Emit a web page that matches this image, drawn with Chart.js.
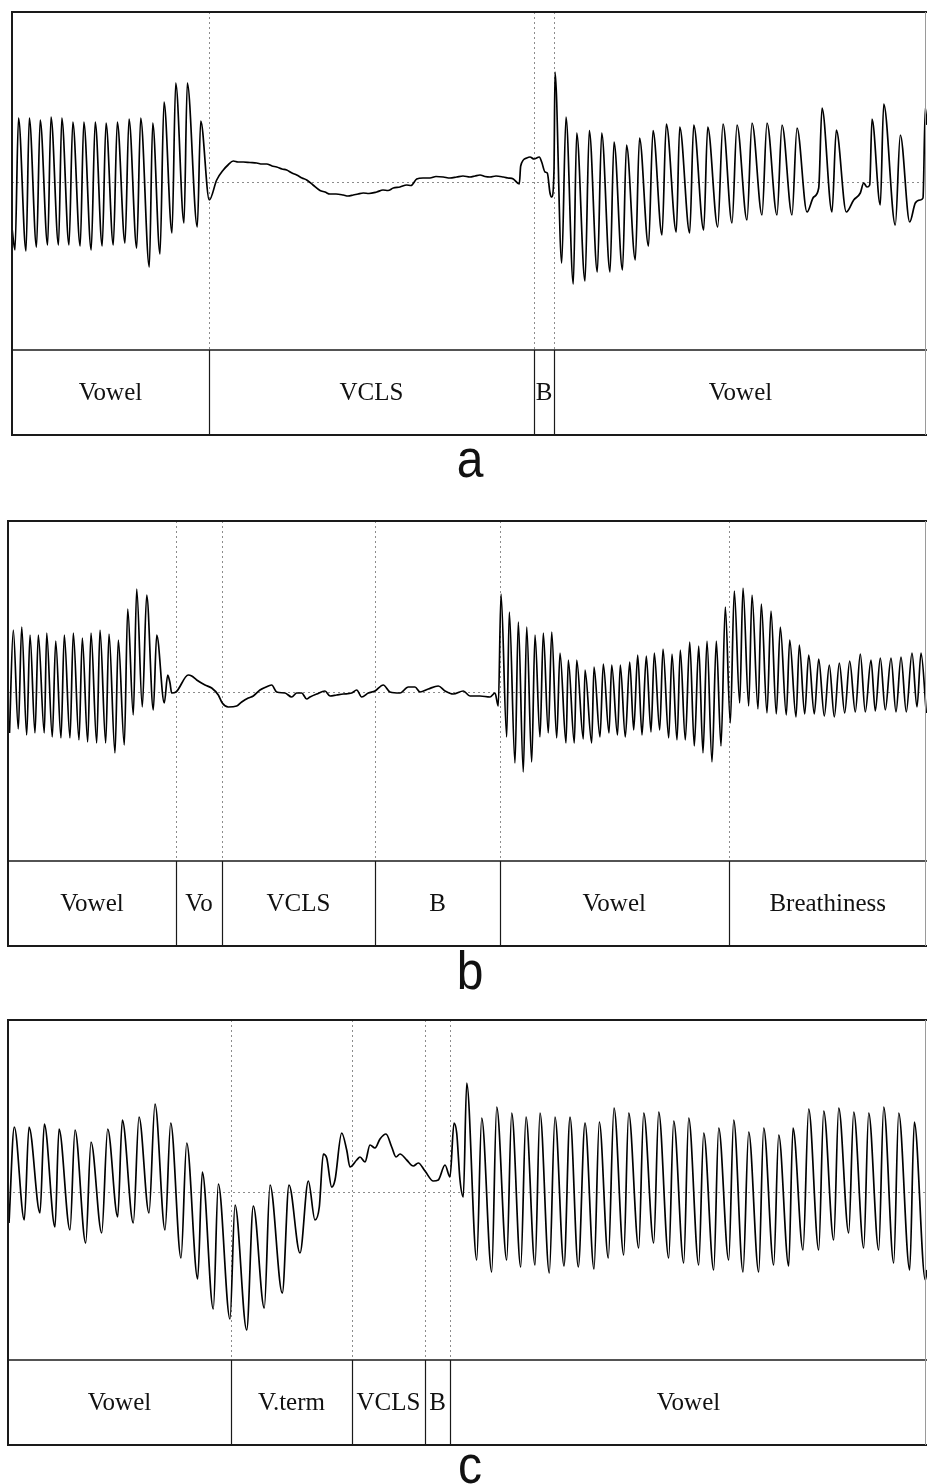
<!DOCTYPE html>
<html>
<head>
<meta charset="utf-8">
<script src="https://cdn.jsdelivr.net/npm/chart.js@4.4.0/dist/chart.umd.min.js"></script>
<style>
  html, body { margin: 0; padding: 0; background: #fff; }
  body { width: 927px; height: 1484px; position: relative; overflow: hidden; }
  canvas { position: absolute; left: 0; }
</style>
</head>
<body>
<canvas id="panelA" width="927" height="495" style="top:0px"></canvas>
<canvas id="panelB" width="927" height="500" style="top:495px"></canvas>
<canvas id="panelC" width="927" height="489" style="top:995px"></canvas>
<script>
// time axis in samples from the left edge of each panel, amplitude around the dotted zero line

// panel a
const aTime = [
  0, 3, 6.5, 14, 17.3, 24.5, 28.2, 35.6, 39, 46.5, 49.8, 57, 60.8, 68.2, 71.8, 79.2, 83.2, 90.2,
  94, 101.3, 105.3, 113, 117, 124.7, 128.7, 137.3, 140.7, 148, 152, 160, 163.7, 172, 175.3, 185.3,
  188.7, 197.3,
  204.7, 211.3, 216, 221.3, 226, 231.3, 238, 244.7, 250, 254.7, 260, 264.7, 270, 274.7, 280, 284.7,
  290, 294.7, 301, 308, 313, 318, 324, 331.3, 336, 341.3, 346, 351.3, 357, 364.7, 371, 376, 381.3,
  388, 394.7, 399, 404.7, 411, 418, 424, 431.3, 438, 444.7, 451, 458, 463, 468, 473, 478, 484,
  491.3, 496, 501.3, 507.3, 508.7, 514.7, 518, 522, 527.3, 529.7, 533, 535.3, 538, 539.7, 542,
  543, 549.7, 554, 561.3, 564.7, 573, 577.3, 585.3, 589.7, 598, 602, 610.5, 614.5, 623.3, 627.5,
  636.5, 641, 650, 654.3, 664.3, 667.7, 677.7, 681.7, 691.7, 695.7, 705.7, 711, 720, 725, 735, 740,
  750, 755, 765, 770, 780, 785, 795, 801.7, 806.7, 810, 820, 824.3, 834.3, 841.7, 848.3, 851.7, 855,
  857.7, 860, 868.3, 871.7, 883.3, 888.3, 897.7, 903.3, 908.3, 911, 913.3, 915,
];
const aAmp = [
  -46, -68, 64, -69, 64, -65, 62, -63, 65, -63, 64, -63, 60, -64, 60, -68, 60, -64,
  59, -63, 60, -61, 63, -66, 64, -85, 59, -72, 80, -51, 99, -41, 99, -45,
  61, -18,
  2, 12, 17, 21, 20, 20, 19.5, 19, 18, 18, 16, 15, 13, 12, 9, 7,
  4, 2, -3, -8.5, -10, -12, -12, -13, -14, -13, -12, -11, -11.5, -10, -8, -8.5, -6,
  -5, -3, -3.5, 3, 4, 4, 5.5, 5, 4, 5, 6, 5, 6, 7, 5.5, 5, 6,
  5, 4, 3, -2, 16, 24, 25, 23, 25, 20, 10, 9, -11, -15, 12,
  110, -81, 65, -102, 49, -99, 51.5, -90, 49, -90, 40, -88, 37, -78, 44,
  -64, 51.5, -53, 58, -50, 55, -51, 57, -48, 55, -45, 58, -41, 57, -38, 59,
  -33, 59, -33, 57, -33, 54, -30, -15, -6, 74, -30, 52, -30, -18, -11, -1, -5,
  -3, 63, -23, 78, -43, 47, -40, -21, -18, -16, 74, 57,
];
const aBounds = [197, 522, 542];
const aLabels = ['Vowel', 'VCLS', 'B', 'Vowel'];

// panel b
const bTime = [
  1.5, 5.3, 10.3, 13.7, 18.7, 22, 27, 30.3, 36.3, 38.7, 44.3, 47.7, 53, 56.3, 62, 65.3, 71, 74.3,
  79.7, 83, 88.7, 92, 97.7, 101, 107, 110.3, 116.3, 119.7, 125.3, 128.7, 134.3, 138.7, 145.3, 148.7,
  156.3,
  159.7, 162, 163.7, 168, 180.3, 183.7, 188.7, 197, 203.7, 210.3, 214.3, 220.3, 228.7, 233.7, 240.3,
  245.3, 252, 260.3, 263.7, 268.7, 277, 283.7, 288.7, 293.7, 298.7, 302, 308.7, 317, 322, 328.7,
  335.3, 343.7, 348.7, 353.7, 360.3, 367, 375.3, 382, 392, 400.3, 407, 412, 420.3, 430.3, 437,
  445.3, 455.3, 462, 472, 482, 487, 490.3,
  493, 498.7, 501.3, 507, 510.3, 515.3, 518.7, 523.7, 527, 532, 535.3, 540.3, 543.7, 548.7, 552,
  558, 560.3, 566.3, 568.7, 575.3, 577, 583.7, 586, 592, 595.3, 601, 603.7, 609.5, 612.3, 617.3,
  621.7, 625.7, 629.7, 634, 638.3, 643, 646.3, 651.7, 655, 660.7, 664, 669, 672.3, 677.3, 681.7,
  686.3, 690.7, 695, 699, 704, 708.3, 713, 717.3, 722.3, 726.3, 731.7, 735, 740.7, 744, 750,
  753.3, 759, 763, 768.3, 772.3, 778.3, 781.7, 788, 791.3, 796.7, 800.7, 806.3, 810.7, 816.3,
  821.3, 826.3, 831.3, 836.7, 841.7, 847.3, 852.3, 857.3, 863, 867.3, 872.3, 877.3, 883, 888,
  893, 898.3, 904, 909, 913, 918.3,
];
const bAmp = [
  -41, 62, -37, 65, -43, 57, -41, 57, -41, 59, -45, 51, -46, 57, -46, 59, -48, 54,
  -50, 59, -51, 62, -51, 58, -61, 52, -53, 83, -23, 103, -15, 97, -18, 57,
  -11,
  17, 9, -1, 0, 17, 16, 12, 7, 4, -3, -11, -15, -14, -10, -6,
  -4, 2, 6, 7, 0, -1, -5, -1, -1, -7, -5, -2, 1, -4, -3,
  -2, -1, 2, -5, -1, 1, 7, 0, -1, 5, 5, 0, 3, 6, 1,
  -2, 1, -4, -4, -5, -1, -14,
  98, -45, 80, -71, 70, -80, 65, -70, 57, -45, 59, -41, 60, -46, 39,
  -51, 32, -51, 32, -47, 22, -51, 25, -45, 28, -41, 27, -43, 27, -45,
  30, -38, 37, -43, 36, -40, 39, -38, 43, -46, 38, -48, 42, -48, 50,
  -54, 46, -61, 51, -70, 51, -54, 85, -31, 101, -11, 104, -14, 97, -17,
  88, -21, 81, -22, 65, -23, 52, -25, 47, -22, 37, -22, 33, -24,
  27, -25, 29, -21, 31, -20, 38, -20, 32, -19, 34, -18, 34, -20,
  35, -20, 39, -15, 39, -21,
];
const bBounds = [168, 214, 367, 492, 720.5];
const bLabels = ['Vowel', 'Vo', 'VCLS', 'B', 'Vowel', 'Breathiness'];

// panel c
const cTime = [
  1, 6.3, 16.3, 21, 32, 36.3, 47, 51, 62, 67, 77.7, 83, 93.7, 99.7, 109.7, 114.3, 125.3, 131,
  141, 147, 157, 162.7, 173, 178.7, 189.7, 194.3, 205.3, 210.3, 222, 227, 238.7, 245.3, 256.3, 262,
  274.3, 281, 292, 300.3, 307,
  311.3, 315.3, 318.7, 323.7, 327, 333.7, 338.7, 342, 348.7, 352, 357, 362, 367, 372, 378,
  383.7, 388, 392, 398.7, 405.3, 410.3, 417, 425.3, 430.3, 437, 442, 446, 448.7, 452, 455.3,
  458.7, 468.7, 473.7, 483.7, 488.7, 498.7, 503.7, 512.7, 518, 527, 532, 541.3, 547, 556, 562,
  570.3, 577, 586, 591.3, 600.3, 606, 615.7, 620.7, 630.7, 635.7, 645.7, 650.7, 660.7, 665.7, 675.7,
  680.7, 690.7, 695.7, 705.7, 710.7, 720.7, 725.7, 735, 740.7, 750.7, 755.7, 765.7, 770.7, 780.7,
  785, 795, 800.7, 810.7, 815.7, 825.7, 830.7, 840.7, 845.7, 855.7, 860.7, 870.7, 875.7, 885.7,
  890.7, 901.7, 906.3, 917.3, 919,
];
const cAmp = [
  -31, 65, -28, 65, -21, 68, -35, 63, -38, 62, -51, 50, -41, 63, -25, 72, -31, 75,
  -21, 88, -38, 69, -66, 49, -87, 20, -117, 8, -127, -13, -138, -14, -116, 7,
  -101, 7, -61, 11, -28,
  -15, 38, 34, 5, 12, 59, 42, 25, 32, 35, 30, 47, 44, 53, 58,
  45, 35, 38, 32, 26, 29, 21, 11, 12, 27, 15, 69, 59, 12, -5,
  109, -68, 74, -80, 85, -68, 79, -75, 75, -73, 79, -81, 75, -74, 75,
  -75, 69, -77, 70, -66, 84, -63, 79, -56, 79, -51, 80, -66, 71, -71,
  74, -73, 59, -78, 64, -68, 72, -80, 60, -80, 64, -73, 57, -74,
  64, -58, 83, -58, 81, -48, 84, -41, 80, -56, 79, -58, 85, -71,
  79, -78, 70, -88, -78,
];
const cBounds = [223, 344, 417, 442];
const cLabels = ['Vowel', 'V.term', 'VCLS', 'B', 'Vowel'];

const panelLetters = ['a', 'b', 'c'];

const line = (ctx, x1, y1, x2, y2) => {
  ctx.beginPath();
  ctx.moveTo(x1, y1);
  ctx.lineTo(x2, y2);
  ctx.stroke();
};

const segmentBand = {
  id: 'segmentBand',
  beforeDatasetsDraw(chart, args, opts) {
    const {
      ctx,
      chartArea: { left, top, right, bottom },
      scales: { x, y },
    } = chart;
    ctx.save();
    ctx.strokeStyle = '#8c8c8c';
    ctx.lineWidth = 1;
    ctx.setLineDash([2, 3]);
    const y0 = Math.round(y.getPixelForValue(0)) + 0.5;
    line(ctx, left, y0, right, y0);
    opts.bounds.forEach((b) => {
      const px = Math.round(x.getPixelForValue(b)) + 0.5;
      line(ctx, px, top, px, bottom);
    });
    ctx.restore();
  },
  afterDatasetsDraw(chart, args, opts) {
    const {
      ctx,
      chartArea: { left, top, right, bottom },
      scales: { x },
    } = chart;
    const bandBottom = bottom + opts.bandHeight;
    ctx.save();
    ctx.strokeStyle = '#1a1a1a';
    ctx.lineWidth = 2;
    line(ctx, left - 1, top, right, top);
    line(ctx, left, top, left, bandBottom);
    line(ctx, left - 1, bandBottom, right, bandBottom);
    ctx.lineWidth = 1.5;
    line(ctx, left, bottom, right, bottom);
    ctx.strokeStyle = '#9a9a9a';
    ctx.lineWidth = 1;
    line(ctx, right - 1.5, top, right - 1.5, bandBottom);

    ctx.strokeStyle = '#1a1a1a';
    ctx.lineWidth = 1.2;
    const edges = [x.min, ...opts.bounds, x.max];
    opts.bounds.forEach((b) => {
      const px = Math.round(x.getPixelForValue(b)) + 0.5;
      line(ctx, px, bottom, px, bandBottom);
    });

    ctx.fillStyle = '#111';
    ctx.font = '25px "Liberation Serif", "Times New Roman", serif';
    ctx.textAlign = 'center';
    ctx.textBaseline = 'middle';
    opts.labels.forEach((label, i) => {
      const cx = (x.getPixelForValue(edges[i]) + x.getPixelForValue(edges[i + 1])) / 2;
      ctx.fillText(label, cx, bottom + opts.bandHeight / 2 + 1);
    });

    ctx.translate(opts.letterX, bandBottom + opts.letterBase);
    ctx.scale(1, 1.12);
    ctx.font = '48px "Liberation Sans", Arial, sans-serif';
    ctx.textBaseline = 'alphabetic';
    ctx.fillText(opts.letter, 0, 0);
    ctx.restore();
  },
};

const makePanel = (id, time, amp, cfg) => {
  new Chart(document.getElementById(id), {
    type: 'line',
    plugins: [segmentBand],
    data: {
      datasets: [
        {
          data: time.map((t, i) => ({ x: t, y: amp[i] })),
          borderColor: '#000',
          borderWidth: 1.7,
          pointRadius: 0,
          cubicInterpolationMode: 'monotone',
          fill: false,
        },
      ],
    },
    options: {
      responsive: false,
      animation: false,
      events: [],
      layout: {
        padding: { top: cfg.padTop, left: cfg.padLeft, right: 0, bottom: cfg.padBottom },
      },
      plugins: {
        legend: { display: false },
        tooltip: { enabled: false },
        segmentBand: {
          bounds: cfg.bounds,
          labels: cfg.labels,
          bandHeight: 85,
          letter: cfg.letter,
          letterX: 470,
          letterBase: cfg.letterBase,
        },
      },
      scales: {
        x: { type: 'linear', min: 0, max: cfg.xMax, display: false },
        y: { min: cfg.yMin, max: cfg.yMax, display: false },
      },
    },
  });
};

makePanel('panelA', aTime, aAmp, {
  padTop: 12, padLeft: 12, padBottom: 145, xMax: 915, yMin: -168, yMax: 170,
  bounds: aBounds, labels: aLabels, letter: panelLetters[0], letterBase: 42,
});
makePanel('panelB', bTime, bAmp, {
  padTop: 26, padLeft: 8, padBottom: 134, xMax: 919, yMin: -169, yMax: 171,
  bounds: bBounds, labels: bLabels, letter: panelLetters[1], letterBase: 43,
});
makePanel('panelC', cTime, cAmp, {
  padTop: 25, padLeft: 8, padBottom: 124, xMax: 919, yMin: -168, yMax: 172,
  bounds: cBounds, labels: cLabels, letter: panelLetters[2], letterBase: 38,
});
</script>
</body>
</html>
